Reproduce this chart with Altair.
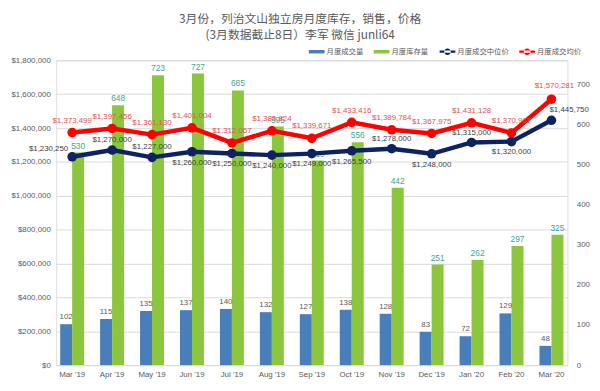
import altair as alt
import pandas as pd
import json

months = ["Mar '19", "Apr '19", "May '19", "Jun '19", "Jul '19", "Aug '19", "Sep '19",
          "Oct '19", "Nov '19", "Dec '19", "Jan '20", "Feb '20", "Mar '20"]
sales = [102, 115, 135, 137, 140, 132, 127, 138, 128, 83, 72, 129, 48]
inventory = [530, 648, 723, 727, 685, 595, 510, 556, 442, 251, 262, 297, 325]
median_price = [1230250, 1270000, 1227000, 1260000, 1250000, 1240000, 1249000,
                1265500, 1278000, 1248000, 1315000, 1320000, 1445750]
average_price = [1373499, 1397456, 1361130, 1401004, 1312067, 1383824, 1339671,
                 1433416, 1389784, 1367975, 1431128, 1370967, 1570281]

bar_series = ["月度成交量", "月度库存量"]
line_series = ["月度成交中位价", "月度成交均价"]
title_lines = ["3月份，列治文山独立房月度库存，销售，价格", "(3月数据截止8日）李军 微信 junli64"]

n = len(months)
bars_df = pd.DataFrame({
    "month": months * 2,
    "series": [bar_series[0]] * n + [bar_series[1]] * n,
    "value": sales + inventory,
})
lines_df = pd.DataFrame({
    "month": months * 2,
    "series": [line_series[0]] * n + [line_series[1]] * n,
    "value": median_price + average_price,
})

FONT = "Liberation Sans Narrow, Liberation Sans, Arial"
CJK = "Noto Sans CJK SC"
GRAY = "#595959"

x_enc = alt.X("month:N", sort=months,
              scale=alt.Scale(paddingInner=0.4, paddingOuter=0.1),
              axis=alt.Axis(title=None, labelAngle=0, ticks=False, labelFontSize=8,
                            labelColor=GRAY, labelFont=FONT, domainColor="#d9d9d9",
                            labelPadding=6, grid=False))
xoff = alt.XOffset("series:N", sort=bar_series,
                   scale=alt.Scale(domain=bar_series, paddingInner=0, paddingOuter=0))
y_bar = alt.Y("value:Q", scale=alt.Scale(domain=[0, 760], nice=False),
              axis=alt.Axis(orient="right", values=list(range(0, 800, 100)), grid=False,
                            domain=False, ticks=False, labelFontSize=8, labelColor=GRAY,
                            labelFont=FONT, title=None, labelPadding=9))

bar_color = alt.Color("series:N", sort=bar_series,
                      scale=alt.Scale(domain=bar_series, range=["#4a7ebb", "#8cc63f"]),
                      legend=alt.Legend(orient="none", legendX=257, legendY=-17,
                                        direction="horizontal", title=None,
                                        symbolType="M-1,-0.22H1V0.22H-1Z", symbolSize=256,
                                        symbolStrokeWidth=0, labelFont=CJK, labelFontSize=7.5,
                                        labelColor=GRAY, columnPadding=10, labelOffset=2))

bars = alt.Chart(bars_df).mark_bar().encode(x=x_enc, xOffset=xoff, y=y_bar, color=bar_color)

sales_text = alt.Chart(bars_df).transform_filter(
    alt.datum.series == bar_series[0]
).mark_text(dy=-7, fontSize=8, font=FONT, color=GRAY).encode(
    x=x_enc, xOffset=xoff, y=y_bar, text="value:Q")
inv_text = alt.Chart(bars_df).transform_filter(
    alt.datum.series == bar_series[1]
).mark_text(dy=-7, fontSize=8.5, font=FONT, color="#3fa593").encode(
    x=x_enc, xOffset=xoff, y=y_bar, text="value:Q")

bar_layer = alt.layer(bars, sales_text, inv_text)

y_line = alt.Y("value:Q", scale=alt.Scale(domain=[0, 1800000], nice=False),
               axis=alt.Axis(orient="left", values=list(range(0, 1800001, 200000)),
                             format="$,.0f", grid=True, gridColor="#d9d9d9", domain=False,
                             ticks=False, labelFontSize=8, labelColor=GRAY, labelFont=FONT,
                             title=None, labelPadding=6))
line_scale = alt.Scale(domain=line_series, range=["#0d2260", "#ff0000"])

lines = alt.Chart(lines_df).mark_line(strokeWidth=4.5).encode(
    x=x_enc, y=y_line,
    stroke=alt.Stroke("series:N", sort=line_series, scale=line_scale, legend=None))
points = alt.Chart(lines_df).mark_circle(size=95, opacity=1).encode(
    x=x_enc, y=y_line,
    color=alt.Color("series:N", sort=line_series, scale=line_scale,
                    legend=alt.Legend(orient="none", legendX=390, legendY=-17,
                                      direction="horizontal", title=None,
                                      symbolType="M-1,-0.14H1V0.14H-1Z M-0.42,0 A0.42,0.42 0 1,0 0.42,0 A0.42,0.42 0 1,0 -0.42,0 Z",
                                      symbolSize=256, symbolStrokeWidth=0, labelFont=CJK,
                                      labelFontSize=7.5, labelColor=GRAY, columnPadding=10,
                                      labelOffset=2)))

last = months[-1]
med_above = ["Apr '19", "May '19", "Nov '19", "Jan '20"]
med_special = med_above + [months[0], last]


def label(series, cond, dx, dy, color):
    expr = "datum.series == " + json.dumps(series) + " && (" + cond + ")"
    return alt.Chart(lines_df).transform_filter(expr).mark_text(
        dx=dx, dy=dy, fontSize=8, font=FONT, color=color).encode(
        x=x_enc, y=y_line, text=alt.Text("value:Q", format="$,.0f"))


RED_T = "#e0504e"
NAVY_T = "#404040"
is_last = "datum.month == " + json.dumps(last)
is_first = "datum.month == " + json.dumps(months[0])
in_above = "indexof(" + json.dumps(med_above) + ", datum.month) >= 0"
in_special = "indexof(" + json.dumps(med_special) + ", datum.month) >= 0"

avg_lbl = label(line_series[1], "!(" + is_last + ")", 0, -12, RED_T)
avg_last = label(line_series[1], is_last, 3, -13, RED_T)
med_up = label(line_series[0], in_above, 0, -10, NAVY_T)
med_first = label(line_series[0], is_first, -24, -8, NAVY_T)
med_last = label(line_series[0], is_last, 18, -10, NAVY_T)
med_down = label(line_series[0], "!(" + in_special + ")", 0, 11, NAVY_T)

line_layer = alt.layer(lines, points, avg_lbl, avg_last, med_up, med_first, med_last, med_down)

chart = alt.layer(bar_layer, line_layer).resolve_scale(
    y="independent", color="independent"
).properties(
    width=520, height=310,
    padding={"left": 2, "right": 2, "top": 2, "bottom": 2},
    title=alt.TitleParams(text=title_lines, font=CJK, fontSize=12, color=GRAY,
                          fontWeight="normal", anchor="middle", frame="bounds",
                          lineHeight=16, offset=2),
).configure_view(stroke=None).configure(background="white")

chart.save("out.html", embed_options={"renderer": "svg", "actions": False})
